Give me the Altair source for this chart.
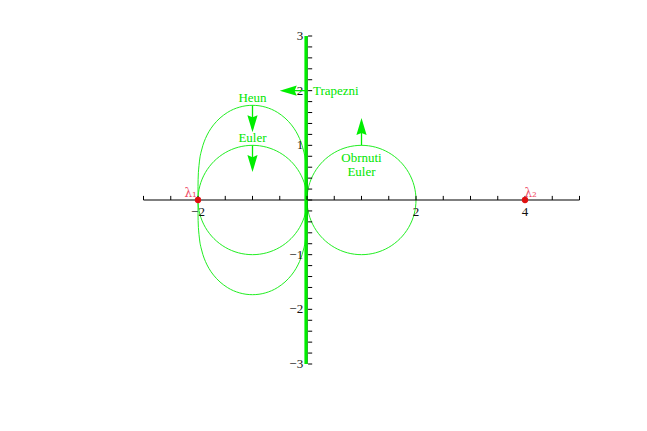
import altair as alt
import pandas as pd

# ---- data ----
x_ticks = [-3, -2.5, -2, -1.5, -1, -0.5, 0, 0.5, 1, 1.5, 2, 2.5, 3, 3.5, 4, 4.5, 5]
y_ticks = [-3, -2.8, -2.6, -2.4, -2.2, -2, -1.8, -1.6, -1.4, -1.2, -1, -0.8, -0.6, -0.4, -0.2,
           0, 0.2, 0.4, 0.6, 0.8, 1, 1.2, 1.4, 1.6, 1.8, 2, 2.2, 2.4, 2.6, 2.8, 3]
x_label_vals = [-2, 2, 4]
x_label_text = ["\u22122", "2", "4"]
y_label_vals = [-3, -2, -1, 1, 2, 3]
y_label_text = ["\u22123", "\u22122", "\u22121", "1", "2", "3"]

euler_x = [0, -0.034, -0.134, -0.293, -0.5, -0.741, -1, -1.259, -1.5, -1.707, -1.866, -1.966,
           -2, -1.966, -1.866, -1.707, -1.5, -1.259, -1, -0.741, -0.5, -0.293, -0.134, -0.034]
circle_y = [0, 0.259, 0.5, 0.707, 0.866, 0.966, 1, 0.966, 0.866, 0.707, 0.5, 0.259,
            0, -0.259, -0.5, -0.707, -0.866, -0.966, -1, -0.966, -0.866, -0.707, -0.5, -0.259]
obrnuti_x = [2, 1.966, 1.866, 1.707, 1.5, 1.259, 1, 0.741, 0.5, 0.293, 0.134, 0.034,
             0, 0.034, 0.134, 0.293, 0.5, 0.741, 1, 1.259, 1.5, 1.707, 1.866, 1.966]

heun_x = [0, -0.0005, -0.007, -0.032, -0.056, -0.09, -0.137, -0.2, -0.286, -0.404, -0.538, -0.65,
          -0.766, -0.88, -1, -1.12, -1.234, -1.35, -1.462, -1.596, -1.714, -1.8, -1.863, -1.91,
          -1.944, -1.968, -1.993, -1.9995, -2,
          -1.9995, -1.993, -1.968, -1.944, -1.91, -1.863, -1.8, -1.714, -1.596, -1.462, -1.35,
          -1.234, -1.12, -1, -0.88, -0.766, -0.65, -0.538, -0.404, -0.286, -0.2, -0.137, -0.09,
          -0.056, -0.032, -0.007, -0.0005]
heun_y = [0, 0.25, 0.5, 0.75, 0.875, 1.0, 1.125, 1.25, 1.375, 1.5, 1.6, 1.659,
          1.7, 1.724, 1.732, 1.724, 1.7, 1.659, 1.6, 1.5, 1.375, 1.25, 1.125, 1.0,
          0.875, 0.75, 0.5, 0.25, 0,
          -0.25, -0.5, -0.75, -0.875, -1.0, -1.125, -1.25, -1.375, -1.5, -1.6, -1.659,
          -1.7, -1.724, -1.732, -1.724, -1.7, -1.659, -1.6, -1.5, -1.375, -1.25, -1.125, -1.0,
          -0.875, -0.75, -0.5, -0.25]

# arrows: shaft start/end, head tip and direction
arrow_x0 = [-1, -1, 1, 0]
arrow_y0 = [1.732, 1.0, 1.0, 2]
arrow_x1 = [-1, -1, 1, -0.42]
arrow_y1 = [1.3, 0.58, 1.42, 2]
tip_x = [-1, -1, 1, -0.5]
tip_y = [1.24, 0.51, 1.5, 2]
tip_angle = [0, 0, 180, 90]

label_text = ["Heun", "Euler", "Obrnuti", "Euler"]
label_x = [-1, -1, 1, 1]
label_y = [1.79, 1.06, 0.695, 0.44]

lam_x = [-2, 4]
lam_text = ["\u03bb\u2081", "\u03bb\u2082"]

# ---- build ----
FONT = "Liberation Serif"
GREEN = "#22ee22"
xs = alt.Scale(domain=[-3, 5], nice=False, zero=False)
ys = alt.Scale(domain=[-3, 3], nice=False, zero=False)


def X(f="x"):
    return alt.X(f"{f}:Q", scale=xs, axis=None)


def Y(f="y"):
    return alt.Y(f"{f}:Q", scale=ys, axis=None)


def curve(xv, yv):
    df = pd.DataFrame({"x": xv, "y": yv, "i": list(range(len(xv)))})
    return alt.Chart(df).mark_line(color=GREEN, strokeWidth=1, interpolate="cardinal-closed").encode(
        x=X(), y=Y(), order=alt.Order("i:Q"))


euler = curve(euler_x, circle_y)
obrnuti = curve(obrnuti_x, circle_y)
heun = curve(heun_x, heun_y)

xaxis = alt.Chart(pd.DataFrame({"x": [x_ticks[0]], "x2": [x_ticks[-1]], "y": [0]})).mark_rule(
    color="black", strokeWidth=1.2).encode(x=X(), x2="x2:Q", y=Y())
yaxis = alt.Chart(pd.DataFrame({"x": [0], "y": [y_ticks[0]], "y2": [y_ticks[-1]]})).mark_rule(
    color="black", strokeWidth=1.2).encode(x=X(), y=Y(), y2="y2:Q")
trap = alt.Chart(pd.DataFrame({"x": [0], "y": [y_ticks[0]], "y2": [y_ticks[-1]]})).mark_rule(
    color="#00ee00", strokeWidth=3.2, xOffset=-1).encode(x=X(), y=Y(), y2="y2:Q")

xt = alt.Chart(pd.DataFrame({"x": x_ticks, "y": [0] * len(x_ticks), "y2": [0.075] * len(x_ticks)})).mark_rule(
    color="black", strokeWidth=1).encode(x=X(), y=Y(), y2="y2:Q")
yt = alt.Chart(pd.DataFrame({"x": [0.02] * len(y_ticks), "x2": [0.095] * len(y_ticks), "y": y_ticks})).mark_rule(
    color="black", strokeWidth=1).encode(x=X(), x2="x2:Q", y=Y())

xl = alt.Chart(pd.DataFrame({"x": x_label_vals, "y": [-0.3] * 3, "t": x_label_text})).mark_text(
    font=FONT, fontSize=13, color="#111111", align="center", baseline="alphabetic").encode(
    x=X(), y=Y(), text="t:N")
yl = alt.Chart(pd.DataFrame({"x": [-0.07] * 6, "y": y_label_vals, "t": y_label_text})).mark_text(
    font=FONT, fontSize=13, color="#111111", align="right", baseline="middle").encode(
    x=X(), y=Y(), text="t:N")

shafts = alt.Chart(pd.DataFrame({"x": arrow_x0, "y": arrow_y0, "x2": arrow_x1, "y2": arrow_y1})).mark_rule(
    color="#00ee00", strokeWidth=1.3).encode(x=X(), y=Y(), x2="x2:Q", y2="y2:Q")
heads = alt.Chart(pd.DataFrame({"x": tip_x, "y": tip_y, "a": tip_angle})).mark_point(
    shape="M0,0 L-0.6,-2 L0,-1.75 L0.6,-2 Z", filled=True, size=289, color="#00ee00", opacity=1,
    strokeWidth=0).encode(x=X(), y=Y(), angle=alt.Angle("a:Q", scale=None))

labels = alt.Chart(pd.DataFrame({"x": label_x, "y": label_y, "t": label_text})).mark_text(
    font=FONT, fontSize=13, color="#00e600", align="center", baseline="alphabetic").encode(
    x=X(), y=Y(), text="t:N")
trap_label = alt.Chart(pd.DataFrame({"x": [0.11], "y": [1.92], "t": ["Trapezni"]})).mark_text(
    font=FONT, fontSize=13, color="#00e600", align="left", baseline="alphabetic").encode(
    x=X(), y=Y(), text="t:N")

lam_pts = alt.Chart(pd.DataFrame({"x": lam_x, "y": [0, 0]})).mark_point(
    shape="circle", filled=True, size=40, color="#e01010", opacity=1).encode(x=X(), y=Y())
lam1 = alt.Chart(pd.DataFrame({"x": [lam_x[0] - 0.02], "y": [0.06], "t": [lam_text[0]]})).mark_text(
    font="DejaVu Serif", fontSize=12, color="#f0506a", align="right", baseline="alphabetic").encode(
    x=X(), y=Y(), text="t:N")
lam2 = alt.Chart(pd.DataFrame({"x": [lam_x[1] - 0.01], "y": [0.06], "t": [lam_text[1]]})).mark_text(
    font="DejaVu Serif", fontSize=12, color="#f0506a", align="left", baseline="alphabetic").encode(
    x=X(), y=Y(), text="t:N")

chart = alt.layer(
    euler, obrnuti, heun, xaxis, yaxis, trap, xt, yt, xl, yl,
    shafts, heads, labels, trap_label, lam_pts, lam1, lam2
).properties(
    width=436, height=328,
    padding={"left": 135.5, "top": 28, "right": 30, "bottom": 40},
    autosize="none",
    background="white",
).configure_view(stroke="transparent", strokeWidth=0)

chart.save("out.html", embed_options={"renderer": "svg", "actions": False})
